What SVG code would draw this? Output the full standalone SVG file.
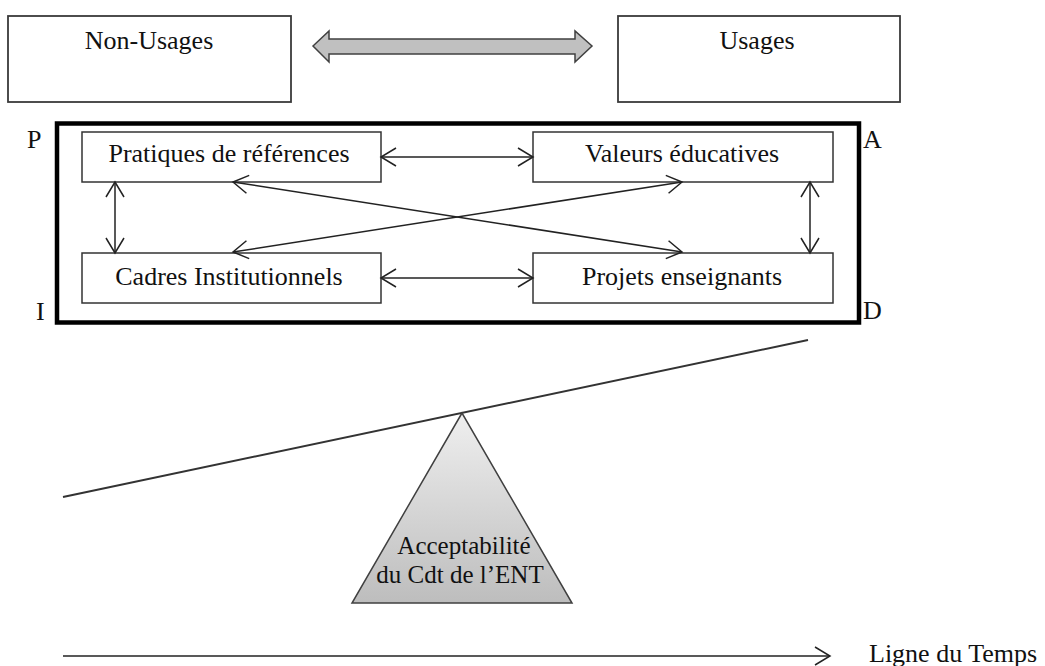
<svg xmlns="http://www.w3.org/2000/svg" width="1045" height="666" viewBox="0 0 1045 666">
<style>
text{font-family:"Liberation Serif","Times New Roman",serif;font-size:26px;fill:#111}
.box{fill:#fff;stroke:#333;stroke-width:1.5}
.tbox{fill:#fff;stroke:#3a3a3a;stroke-width:1.8}
.c{fill:none;stroke:#222;stroke-width:1.5;marker-start:url(#oa);marker-end:url(#oa)}
.mid{text-anchor:middle}
.tri{font-size:25px}
</style>
<defs>
<marker id="oa" viewBox="0 0 20 20" refX="16" refY="10" markerWidth="20" markerHeight="20" markerUnits="userSpaceOnUse" orient="auto-start-reverse">
<path d="M1,1 L16,10 L1,19" fill="none" stroke="#222" stroke-width="1.5"/>
</marker>
<marker id="oe" viewBox="0 0 20 20" refX="16" refY="10" markerWidth="20" markerHeight="20" markerUnits="userSpaceOnUse" orient="auto">
<path d="M1,1 L16,10 L1,19" fill="none" stroke="#222" stroke-width="1.5"/>
</marker>
<linearGradient id="tg" x1="0" y1="0" x2="0" y2="1">
<stop offset="0" stop-color="#efefef"/>
<stop offset="1" stop-color="#bdbdbd"/>
</linearGradient>
</defs>
<rect width="1045" height="666" fill="#fff"/>

<g id="non-usages">
<rect class="tbox" x="8" y="16" width="283" height="86"/>
<text class="mid" x="149" y="49">Non-Usages</text>
</g>
<g id="usages">
<rect class="tbox" x="618" y="16" width="282" height="86"/>
<text class="mid" x="757" y="49">Usages</text>
</g>
<g id="usage-arrow">
<polygon points="313,46 329,31 329,39 575,39 575,31 592,46 575,62 575,54 329,54 329,62" fill="#c0c0c0" stroke="#404040" stroke-width="1.5"/>
</g>

<g id="frame">
<rect x="57" y="123.5" width="802" height="199" fill="none" stroke="#000" stroke-width="4.5"/>
<text x="27" y="148">P</text>
<text x="863" y="148">A</text>
<text x="36" y="320">I</text>
<text x="863" y="319">D</text>
</g>

<g id="pratiques">
<rect class="box" x="82" y="132" width="299" height="50"/>
<text class="mid" x="229" y="162">Pratiques de références</text>
</g>
<g id="valeurs">
<rect class="box" x="533" y="132" width="300" height="50"/>
<text class="mid" x="682" y="162">Valeurs éducatives</text>
</g>
<g id="cadres">
<rect class="box" x="82" y="253" width="299" height="50"/>
<text class="mid" x="229" y="285">Cadres Institutionnels</text>
</g>
<g id="projets">
<rect class="box" x="533" y="253" width="300" height="50"/>
<text class="mid" x="682" y="285">Projets enseignants</text>
</g>

<g id="connectors">
<path class="c" d="M381,157 H533"/>
<path class="c" d="M381,278 H533"/>
<path class="c" d="M115,182 V253"/>
<path class="c" d="M810,182 V253"/>
<path class="c" d="M233,182 L682,252"/>
<path class="c" d="M682,182 L233,252"/>
</g>

<g id="balance">
<line x1="63" y1="497" x2="808" y2="340" stroke="#333" stroke-width="2"/>
</g>
<g id="fulcrum">
<polygon points="462,413 352,603 572,603" fill="url(#tg)" stroke="#404040" stroke-width="1.5"/>
<text class="mid tri" x="464" y="554">Acceptabilité</text>
<text class="mid tri" x="460" y="583">du Cdt de l’ENT</text>
</g>

<g id="timeline">
<line x1="63" y1="656" x2="830" y2="656" stroke="#222" stroke-width="1.5" marker-end="url(#oe)"/>
<text x="869" y="662">Ligne du Temps</text>
</g>
</svg>
